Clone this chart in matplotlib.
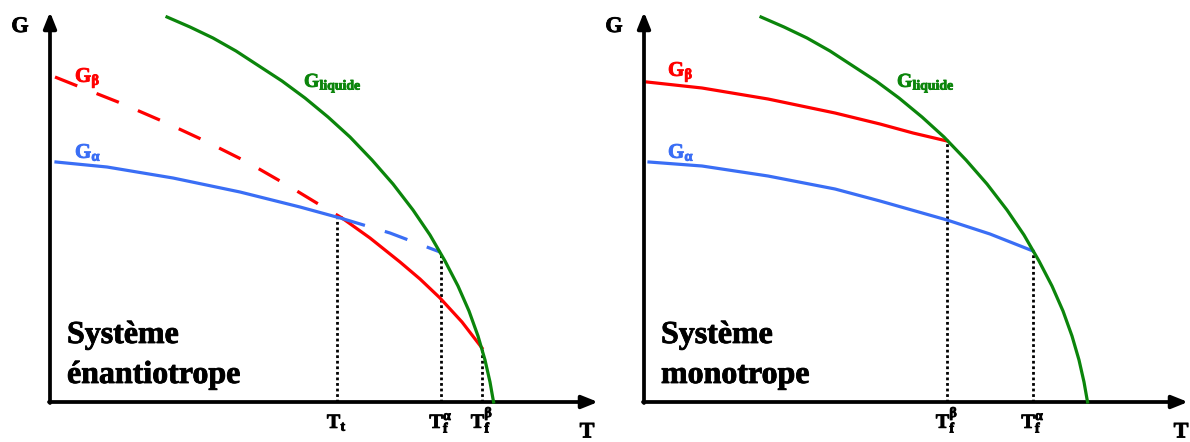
import matplotlib.pyplot as plt
import matplotlib.patheffects as pe

# colours
RED = '#FF0000'
BLUE = '#3A6EF5'
GREEN = '#0B850B'

# G liquide (same curve in both panels)
liq_T = [11.7, 14.0, 16.3, 18.6, 20.9, 23.2, 25.5, 27.8, 30.0, 32.2, 34.3,
         36.3, 38.0, 39.5, 40.8, 41.9, 42.8, 43.5, 44.0, 44.3, 44.36]
liq_G = [38.5, 37.5, 36.4, 35.1, 33.6, 32.1, 30.4, 28.5, 26.5, 24.2, 21.8,
         19.2, 16.7, 14.1, 11.6, 9.1, 6.6, 4.2, 2.0, 0.3, 0.0]

# ---- left panel: système énantiotrope ----
beta_dash_T = [0.5, 3.0, 6.8, 11.2, 15.3, 19.7, 23.7, 27.0, 29.2]
beta_dash_G = [32.5, 31.5, 30.0, 28.1, 26.2, 24.0, 21.7, 19.7, 18.4]
beta_solid_T = [29.2, 32.0, 35.0, 37.0, 39.0, 41.2, 43.2]
beta_solid_G = [18.4, 16.4, 14.0, 12.3, 10.4, 8.0, 5.4]

alpha_solid_T = [0.6, 5.7, 12.3, 19.0, 25.0, 29.2]
alpha_solid_G = [24.0, 23.5, 22.4, 21.0, 19.5, 18.35]
alpha_dash_T = [29.2, 34.0, 39.0]
alpha_dash_G = [18.35, 16.9, 15.0]

marks_left_T = [28.7, 39.1, 43.2]
marks_left_G = [18.4, 15.0, 5.4]
marks_left_lab = ['T$_\\mathregular{t}$', 'T$_\\mathregular{f}^\\mathregular{α}$',
                  'T$_\\mathregular{f}^\\mathregular{β}$']

# ---- right panel: système monotrope ----
beta_T_right = [0.3, 5.8, 12.4, 19.1, 23.6, 26.9, 30.3]
beta_G_right = [32.0, 31.4, 30.3, 28.9, 27.8, 26.9, 26.1]

alpha_T_right = [0.5, 5.8, 12.4, 19.1, 23.6, 30.3, 34.6, 38.9]
alpha_G_right = [24.0, 23.6, 22.6, 21.3, 20.1, 18.2, 16.8, 15.1]

marks_right_T = [30.3, 38.9]
marks_right_G = [26.1, 15.1]
marks_right_lab = ['T$_\\mathregular{f}^\\mathregular{β}$', 'T$_\\mathregular{f}^\\mathregular{α}$']

plt.rcParams['font.family'] = 'Liberation Serif'
plt.rcParams['mathtext.default'] = 'regular'

fig = plt.figure(figsize=(11.9, 4.42), dpi=100)
ax1 = fig.add_axes([0, 0, 600 / 1190, 1])
ax2 = fig.add_axes([595 / 1190, 0, 595 / 1190, 1])
ax1.set_xlim(-5.0, 55.0)
ax2.set_xlim(-4.9, 54.6)
for ax in (ax1, ax2):
    ax.set_ylim(-4.0, 40.2)
    ax.axis('off')

LW = 2.3


def label(ax, x, y, s, size, color='black', **kw):
    # heavy bold serif, thickened slightly like the original
    ax.text(x, y, s, fontsize=size, color=color, family='Liberation Serif',
            fontweight='bold', va='baseline',
            path_effects=[pe.withStroke(linewidth=0.6, foreground=color)], **kw)


def axes_arrows(ax, xmax):
    arr = dict(arrowstyle='-|>,head_length=0.8,head_width=0.32', lw=2.7,
               color='black', mutation_scale=12, shrinkA=0, shrinkB=0)
    ax.annotate('', xy=(0, 39.0), xytext=(0, -0.1), arrowprops=arr)
    ax.annotate('', xy=(xmax, 0), xytext=(-0.1, 0), arrowprops=arr)
    label(ax, -3.0, 37.0, 'G', 16, ha='center')
    label(ax, 53.7, -3.55, 'T', 16, ha='center')


def marks(ax, ts, gs, labels):
    for t, g, lab in zip(ts, gs, labels):
        ax.plot([t, t], [0, g], color='black', lw=2.0, ls=(0, (1, 1)), zorder=1)
        label(ax, t, -2.6, lab, 14.5, ha='center')


# left
axes_arrows(ax1, 54.8)
marks(ax1, marks_left_T, marks_left_G, marks_left_lab)
ax1.plot(beta_dash_T, beta_dash_G, color=RED, lw=LW, dashes=(7.5, 6.5))
ax1.plot(beta_solid_T, beta_solid_G, color=RED, lw=LW)
ax1.plot(alpha_solid_T, alpha_solid_G, color=BLUE, lw=LW)
ax1.plot(alpha_dash_T, alpha_dash_G, color=BLUE, lw=LW, dashes=(7.5, 6.5))
ax1.plot(liq_T, liq_G, color=GREEN, lw=LW, zorder=3)
label(ax1, 2.5, 32.0, 'G$_\\mathregular{β}$', 15, RED)
label(ax1, 2.5, 24.4, 'G$_\\mathregular{α}$', 15, BLUE)
label(ax1, 25.4, 31.5, 'G$_\\mathregular{liquide}$', 14.2, GREEN)
label(ax1, 1.7, 5.9, 'Système', 23, ha='left')
label(ax1, 1.7, 1.9, 'énantiotrope', 23, ha='left')

# right
axes_arrows(ax2, 54.4)
marks(ax2, marks_right_T, marks_right_G, marks_right_lab)
ax2.plot(beta_T_right, beta_G_right, color=RED, lw=LW)
ax2.plot(alpha_T_right, alpha_G_right, color=BLUE, lw=LW)
ax2.plot(liq_T, liq_G, color=GREEN, lw=LW, zorder=3)
label(ax2, 2.4, 32.6, 'G$_\\mathregular{β}$', 15, RED)
label(ax2, 2.4, 24.4, 'G$_\\mathregular{α}$', 15, BLUE)
label(ax2, 25.3, 31.5, 'G$_\\mathregular{liquide}$', 14.2, GREEN)
label(ax2, 1.7, 5.9, 'Système', 23, ha='left')
label(ax2, 1.7, 1.9, 'monotrope', 23, ha='left')

fig.savefig('out.png', dpi=100, facecolor='white')
